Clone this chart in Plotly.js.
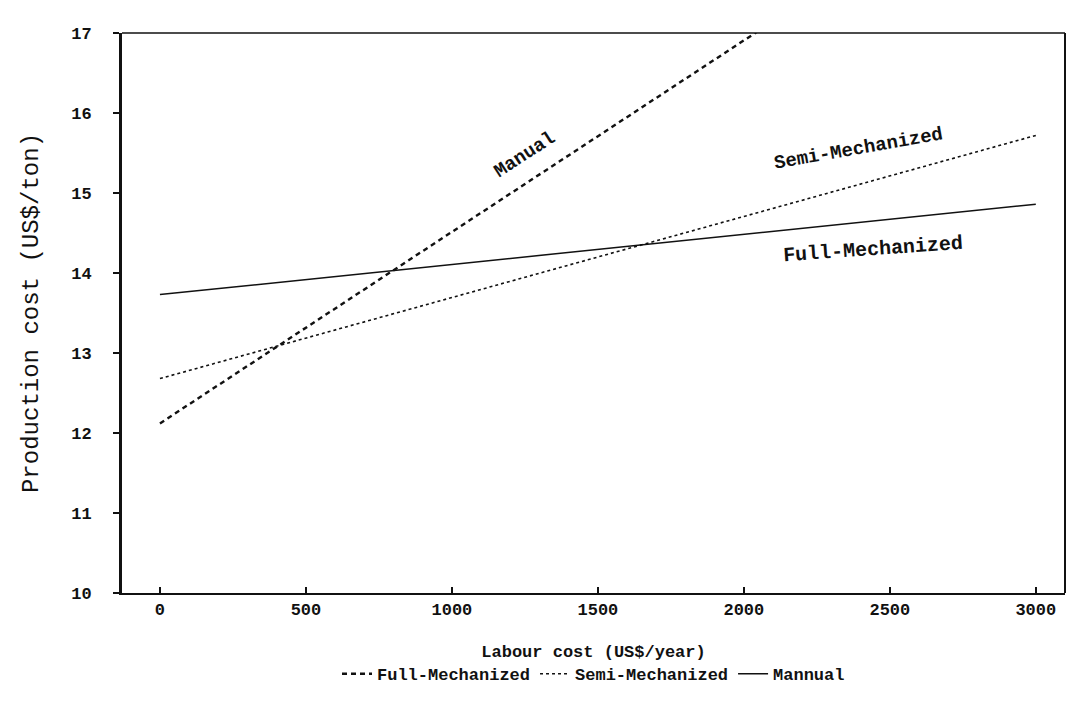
<!DOCTYPE html>
<html>
<head>
<meta charset="utf-8">
<script src="https://cdn.plot.ly/plotly-3.0.1.min.js"></script>
<style>html,body{margin:0;padding:0;background:#fff;}#chart{width:1076px;height:703px;}</style>
</head>
<body>
<div id="chart"></div>
<script>
// Data
const labourCost = [0, 3000];
const fullMechDashed = [12.12, 19.3];   // steep dashed line (labelled "Manual" in plot, "Full-Mechanized" in legend)
const semiMech = [12.68, 15.72];        // dotted line
const mannualSolid = [13.73, 14.86];    // solid line (labelled "Full-Mechanized" in plot, "Mannual" in legend)
const traceNames = ["Full-Mechanized", "Semi-Mechanized", "Mannual"];
const xTicks = [0, 500, 1000, 1500, 2000, 2500, 3000];
const yTicks = [10, 11, 12, 13, 14, 15, 16, 17];
const lineLabels = ["Manual", "Semi-Mechanized", "Full-Mechanized"];

const FONT = "Liberation Mono, DejaVu Sans Mono, monospace";

const traces = [
  {x: labourCost, y: fullMechDashed, name: traceNames[0], mode: "lines",
   line: {color: "#111", width: 2.4, dash: "5px,4px"}},
  {x: labourCost, y: semiMech, name: traceNames[1], mode: "lines",
   line: {color: "#111", width: 1.6, dash: "dot"}},
  {x: labourCost, y: mannualSolid, name: traceNames[2], mode: "lines",
   line: {color: "#111", width: 1.5}}
];

const layout = {
  width: 1076, height: 703,
  margin: {l: 122, r: 11, t: 33, b: 100},
  paper_bgcolor: "#fff", plot_bgcolor: "#fff",
  font: {family: FONT, color: "#111", size: 16},
  showlegend: true,
  legend: {orientation: "h", x: 0.5, xanchor: "center", y: -0.145, yanchor: "middle",
           font: {family: FONT, size: 17, color: "#111", weight: "bold"}, itemwidth: 30, tracegroupgap: 0,
           bgcolor: "rgba(0,0,0,0)"},
  xaxis: {
    range: [-130, 3100], tickvals: xTicks, ticktext: xTicks.map(String), automargin: false,
    showgrid: false, zeroline: false, showline: true, linecolor: "#111", linewidth: 1.8,
    ticks: "inside", ticklen: 6, tickcolor: "#111", tickwidth: 1.5,
    tickfont: {family: FONT, size: 17, color: "#111", weight: "bold"},
    title: {text: "Labour cost (US$/year)", font: {family: FONT, size: 17, color: "#111", weight: "bold"}, standoff: 26}
  },
  yaxis: {
    range: [10, 17], tickvals: yTicks, ticktext: yTicks.map(String), automargin: false,
    showgrid: false, zeroline: false, showline: true, linecolor: "#111", linewidth: 3,
    ticks: "outside", ticklen: 6, tickcolor: "#111", tickwidth: 1.5, ticklabelstandoff: 18,
    tickfont: {family: FONT, size: 17, color: "#111", weight: "bold"},
    title: {text: "Production cost (US$/ton)", font: {family: FONT, size: 24, color: "#111"}, standoff: 26}
  },
  shapes: [
    {type: "line", xref: "paper", yref: "paper", x0: 0, x1: 1, y0: 1, y1: 1, line: {color: "#111", width: 1.5}},
    {type: "line", xref: "paper", yref: "paper", x0: 1, x1: 1, y0: 0, y1: 1, line: {color: "#111", width: 2}}
  ],
  annotations: [
    {x: 1250, y: 15.47, text: lineLabels[0], showarrow: false, textangle: -33,
     font: {family: FONT, size: 19, color: "#111", weight: "bold"}},
    {x: 2393, y: 15.55, text: lineLabels[1], showarrow: false, textangle: -10,
     font: {family: FONT, size: 19, color: "#111", weight: "bold"}},
    {x: 2444, y: 14.3, text: lineLabels[2], showarrow: false, textangle: -4,
     font: {family: FONT, size: 20, color: "#111", weight: "bold"}}
  ]
};

Plotly.newPlot("chart", traces, layout, {staticPlot: true, displayModeBar: false});
</script>
</body>
</html>
